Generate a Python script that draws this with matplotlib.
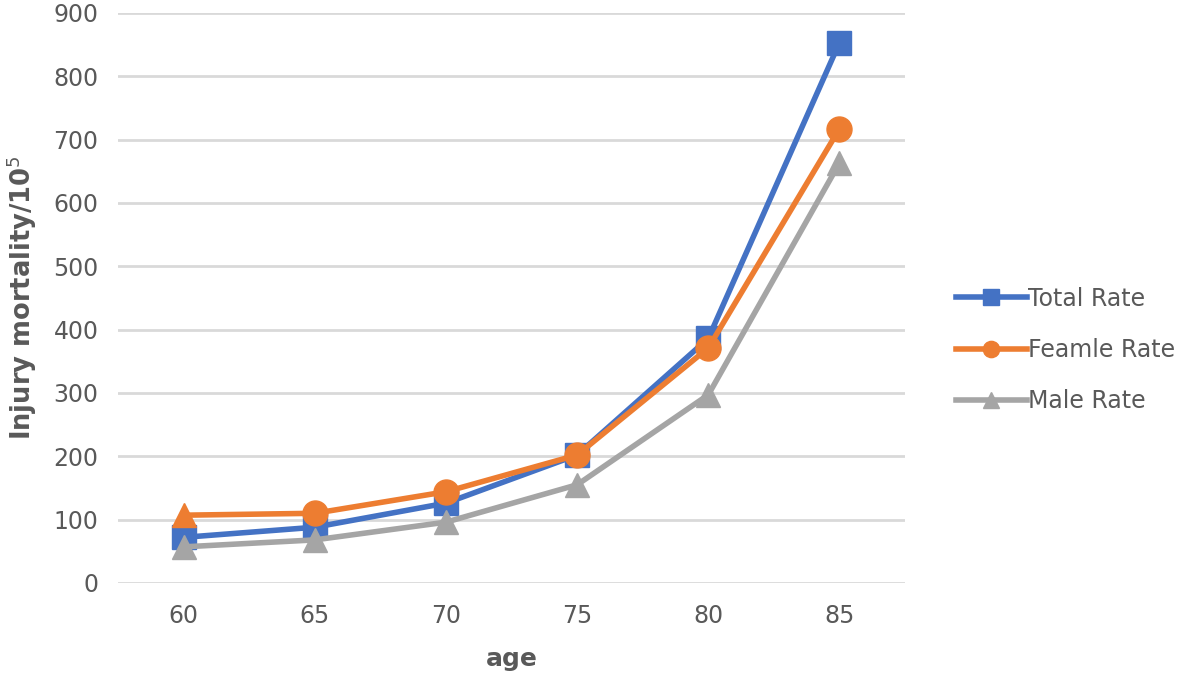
import matplotlib.pyplot as plt
import numpy as np

ages = ['60', '65', '70', '75', '80', '85']
total_rate = [72, 88, 126, 202, 386, 853]
female_rate = [107, 110, 144, 202, 371, 717]
male_rate = [57, 68, 96, 155, 297, 663]

plt.rcParams['font.family'] = ['DejaVu Sans']

fig = plt.figure(figsize=(11.8, 6.82), dpi=100)
ax = fig.add_axes([0.1, 0.1452, 0.667, 0.836])

x = np.arange(len(ages))
lw = 4
ax.plot(x, total_rate, color='#4472C4', lw=lw, marker='s', ms=17,
        label='Total Rate', zorder=3)
ax.plot(x, female_rate, color='#ED7D31', lw=lw, marker='o', ms=18,
        markevery=list(range(1, len(ages))), label='Feamle Rate', zorder=4)
# first orange point is drawn as a triangle in the original
ax.plot(x[:1], female_rate[:1], color='#ED7D31', lw=0, marker='^', ms=17, zorder=4)
ax.plot(x, male_rate, color='#A5A5A5', lw=lw, marker='^', ms=17,
        label='Male Rate', zorder=5)

ax.set_xlim(-0.5, len(ages) - 0.5)
ax.set_ylim(0, 900)
ax.set_yticks(np.arange(0, 901, 100))
ax.set_xticks(x)
ax.set_xticklabels(ages)
ax.grid(axis='y', color='#D9D9D9', lw=2, zorder=0)
ax.set_axisbelow(True)
for s in ax.spines.values():
    s.set_visible(False)
ax.tick_params(length=0, labelsize=17, labelcolor='#595959')
ax.tick_params(axis='x', pad=15)
ax.tick_params(axis='y', pad=14)

ax.set_xlabel('age', fontsize=18, fontweight='bold', color='#595959', labelpad=14)
ax.set_ylabel('Injury mortality/10$^5$', fontsize=18.5, fontweight='bold',
              color='#595959', labelpad=10)

ax.legend(loc='center left', bbox_to_anchor=(0.792, 0.487),
          bbox_transform=fig.transFigure, frameon=False,
          fontsize=17, labelcolor='#595959', handlelength=3.0,
          handletextpad=0.05, labelspacing=1.15, markerscale=0.65)

plt.savefig('out.png')
